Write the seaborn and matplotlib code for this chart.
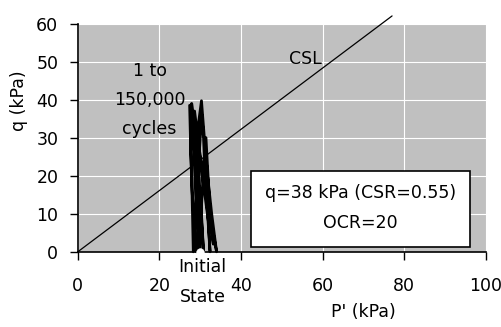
import matplotlib
matplotlib.use("Agg")
import matplotlib.pyplot as plt
from matplotlib.patches import Rectangle
import seaborn as sns
import pandas as pd

# CSL line (p', q)
csl_p = [0.0, 77.0]
csl_q = [0.0, 62.0]

# Cyclic stress path (1 to 150,000 cycles)
path_p = [30.0, 29.6, 29.0, 28.3, 27.9, 28.6, 29.4, 30.2, 30.8,
          30.4, 29.8, 29.4, 29.6, 30.3, 31.0, 31.8, 32.8, 34.0,
          33.0, 31.6, 30.4, 29.2, 28.2, 27.4, 27.6, 27.9, 28.1, 28.3,
          28.8, 29.4, 30.0, 30.4, 30.8, 31.2, 31.8, 32.4,
          32.0, 31.0, 30.0, 29.2, 28.6, 28.2, 28.6, 29.0, 29.4, 29.6,
          30.2, 30.8, 31.4, 32.2, 33.2,
          32.6, 31.4, 30.2, 29.0, 28.0, 27.6, 28.0, 28.6, 29.0]
path_q = [0.0, 10.0, 20.0, 30.0, 39.0, 30.0, 20.0, 10.0, 0.0,
          8.0, 18.0, 28.0, 34.0, 39.7, 30.0, 20.0, 10.0, 0.0,
          6.0, 14.0, 22.0, 28.0, 34.0, 38.5, 30.0, 20.0, 10.0, 0.0,
          10.0, 20.0, 30.0, 36.0, 30.0, 20.0, 10.0, 0.0,
          8.0, 16.0, 24.0, 32.0, 37.0, 33.0, 22.0, 12.0, 4.0, 0.0,
          10.0, 22.0, 30.0, 14.0, 2.0,
          8.0, 16.0, 24.0, 32.0, 36.0, 28.0, 16.0, 6.0, 0.0]

# Initial state
init_p = [30.0]
init_q = [0.0]

x_ticks = [0, 20, 40, 60, 80, 100]
y_ticks = [0, 10, 20, 30, 40, 50, 60]

sns.set_style("darkgrid", {
    "axes.facecolor": "#C0C0C0",
    "grid.color": "white",
    "grid.linewidth": 1.5,
    "axes.edgecolor": "black",
    "xtick.bottom": True,
    "ytick.left": True,
    "text.color": "black",
    "axes.labelcolor": "black",
    "xtick.color": "black",
    "ytick.color": "black",
})
plt.rcParams["font.family"] = ["DejaVu Sans"]

FS = 12.5

fig = plt.figure(figsize=(5.02, 3.27), dpi=100)
ax = fig.add_axes([0.155, 0.230, 0.813, 0.698])

csl_df = pd.DataFrame({"p": csl_p, "q": csl_q})
path_df = pd.DataFrame({"p": path_p, "q": path_q})
init_df = pd.DataFrame({"p": init_p, "q": init_q})

sns.lineplot(data=csl_df, x="p", y="q", ax=ax, color="black", lw=0.9,
             sort=False, estimator=None, clip_on=False)
sns.lineplot(data=path_df, x="p", y="q", ax=ax, color="black", lw=2.0,
             sort=False, estimator=None, clip_on=False)
sns.scatterplot(data=init_df, x="p", y="q", ax=ax, color="white", s=30,
                edgecolor="white", zorder=5, clip_on=False)

ax.set_xlim(0, 100)
ax.set_ylim(0, 60)
ax.set_xticks(x_ticks)
ax.set_yticks(y_ticks)
ax.tick_params(axis="both", direction="out", length=6, width=1, color="black",
               labelsize=FS, labelcolor="black")
ax.tick_params(axis="y", pad=8)
ax.tick_params(axis="x", pad=12)
for s in ["top", "right"]:
    ax.spines[s].set_visible(False)
for s in ["left", "bottom"]:
    ax.spines[s].set_visible(True)
    ax.spines[s].set_color("black")
    ax.spines[s].set_linewidth(1.2)

ax.set_xlabel("P' (kPa)", fontsize=FS, color="black")
ax.set_ylabel("q (kPa)", fontsize=FS, color="black")
ax.xaxis.set_label_coords(0.70, -0.225)
ax.yaxis.set_label_coords(-0.122, 0.66)

ax.text(17.6, 47.5, "1 to", ha="center", va="center", fontsize=FS)
ax.text(17.6, 40.0, "150,000", ha="center", va="center", fontsize=FS)
ax.text(17.6, 32.2, "cycles", ha="center", va="center", fontsize=FS)
ax.text(55.8, 50.8, "CSL", ha="center", va="center", fontsize=FS)
ax.text(30.6, -4.0, "Initial", ha="center", va="center", fontsize=FS, clip_on=False)
ax.text(30.6, -12.0, "State", ha="center", va="center", fontsize=FS, clip_on=False)

ax.add_patch(Rectangle((42.4, 1.2), 53.6, 20.0, facecolor="white",
                       edgecolor="black", linewidth=1.2, zorder=6))
ax.text(69.3, 15.5, "q=38 kPa (CSR=0.55)", ha="center", va="center",
        fontsize=FS, zorder=7)
ax.text(69.3, 7.5, "OCR=20", ha="center", va="center", fontsize=FS, zorder=7)

fig.savefig("out.png", dpi=100)
